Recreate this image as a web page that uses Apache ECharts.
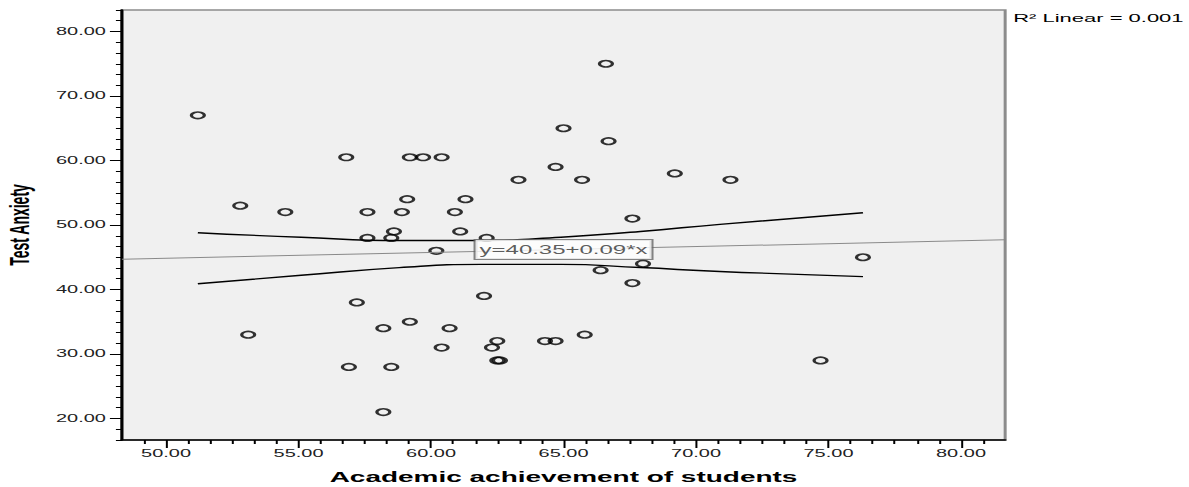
<!DOCTYPE html>
<html>
<head>
<meta charset="utf-8">
<script src="https://cdn.jsdelivr.net/npm/echarts@6.0.0/dist/echarts.min.js"></script>
<style>
  html, body { margin: 0; padding: 0; background: #fff; overflow: hidden; }
  #wrap { position: absolute; left: 0; top: 0; width: 1189px; height: 487px; overflow: hidden; }
  /* The chart is laid out at half width and stretched horizontally (wide SPSS-style export). */
  #chart { position: absolute; left: 0; top: 0; width: 595px; height: 487px;
           transform-origin: 0 0; transform: scaleX(1.99832); }
</style>
</head>
<body>
<div id="wrap"><div id="chart"></div></div>
<script>
// Academic achievement (x) and test anxiety (y) for each student
const achievement = [51.2, 52.8, 54.5, 53.1, 56.8, 57.6, 57.6, 57.2, 56.9, 58.5,
                     58.2, 58.2, 58.6, 58.5, 58.9, 59.1, 59.2, 59.7, 59.2, 60.4,
                     60.2, 60.4, 60.7, 60.9, 61.1, 61.3, 62.1, 62.0, 62.3, 62.5,
                     62.5, 62.6, 63.3, 64.3, 64.7, 64.7, 65.0, 65.7, 65.8, 66.4,
                     66.6, 66.7, 67.6, 67.6, 68.0, 69.2, 71.3, 74.7, 76.3];
const anxiety     = [67, 53, 52, 33, 60.5, 52, 48, 38, 28, 28,
                     34, 21, 49, 48, 52, 54, 60.5, 60.5, 35, 60.5,
                     46, 31, 34, 52, 49, 54, 48, 39, 31, 32,
                     29, 29, 57, 32, 32, 59, 65, 57, 33, 43,
                     75, 63, 51, 41, 44, 58, 57, 29, 45];

// Linear fit: y = 40.35 + 0.09*x, R² = 0.001
const fitIntercept = 40.35;
const fitSlope = 0.09;
const rSquared = '0.001';

// 95% confidence band of the mean around the fit
const bandX     = [51.2, 55.1, 58.8, 61.9, 64.9, 67.9, 70.9, 76.3];
const bandUpper = [48.8, 48.1, 47.6, 47.6, 48.1, 49.0, 50.1, 51.9];
const bandLower = [40.9, 42.2, 43.4, 43.9, 43.9, 43.4, 42.8, 42.0];

// Axis ranges and tick labels
const xMin = 145 / 3, xMax = 245 / 3, xMinorStep = 5 / 6;
const yMin = 50 / 3,  yMax = 250 / 3, yMinorStep = 10 / 6;
const xTickValues = [50, 55, 60, 65, 70, 75, 80];
const yTickValues = [20, 30, 40, 50, 60, 70, 80];

function minorTicks(min, max, step, majors) {
  const out = [];
  const first = Math.ceil(min / step - 1e-6), last = Math.floor(max / step + 1e-6);
  for (let n = first; n <= last; n++) {
    const v = +(n * step).toFixed(6);
    if (!majors.some(m => Math.abs(m - v) < 1e-4)) out.push(v);
  }
  return out;
}
const xMinorTicks = minorTicks(xMin, xMax, xMinorStep, xTickValues);
const yMinorTicks = minorTicks(yMin, yMax, yMinorStep, yTickValues);

const fit = x => fitIntercept + fitSlope * x;
const font = 'Liberation Sans, Arial, sans-serif';

const chart = echarts.init(document.getElementById('chart'), null, { renderer: 'svg' });

const option = {
  animation: false,
  title: {
    text: 'R² Linear = ' + rSquared,
    left: 507, top: 13, padding: 0,
    textStyle: { fontFamily: font, fontSize: 11, fontWeight: 'normal', color: '#000' }
  },
  grid: {
    left: 61, right: 92, top: 10, bottom: 47,
    outerBoundsMode: 'none', containLabel: false,
    show: true, backgroundColor: '#f0f0f0', borderColor: '#8c8c8c', borderWidth: 1.5
  },
  xAxis: [
    {
      type: 'value', min: xMin, max: xMax, position: 'bottom',
      axisLine: { show: true, onZero: false, lineStyle: { color: '#000', width: 1.5 } },
      axisTick: { show: true, customValues: xTickValues, length: 8, lineStyle: { color: '#000', width: 1 } },
      axisLabel: { customValues: xTickValues, formatter: v => v.toFixed(2),
                   fontFamily: font, fontSize: 10, color: '#222', margin: 9 },
      splitLine: { show: false },
      name: 'Academic achievement of students', nameLocation: 'middle', nameGap: 30,
      nameTextStyle: { fontFamily: font, fontWeight: 'bold', fontSize: 14, color: '#000' }
    },
    {
      type: 'value', min: xMin, max: xMax, position: 'bottom',
      axisLine: { show: false },
      axisTick: { show: true, customValues: xMinorTicks, length: 4, lineStyle: { color: '#000', width: 1 } },
      axisLabel: { show: false },
      splitLine: { show: false }
    }
  ],
  yAxis: [
    {
      type: 'value', min: yMin, max: yMax, position: 'left',
      axisLine: { show: true, onZero: false, lineStyle: { color: '#000', width: 1.5 } },
      axisTick: { show: true, customValues: yTickValues, length: 6, lineStyle: { color: '#000', width: 1 } },
      axisLabel: { customValues: yTickValues, formatter: v => v.toFixed(2),
                   fontFamily: font, fontSize: 10, color: '#222', margin: 8 },
      splitLine: { show: false },
      name: 'Test Anxiety', nameLocation: 'middle', nameGap: 44,
      nameTextStyle: { fontFamily: font, fontWeight: 'bold', fontSize: 14, color: '#000' }
    },
    {
      type: 'value', min: yMin, max: yMax, position: 'left',
      axisLine: { show: false },
      axisTick: { show: true, customValues: yMinorTicks, length: 3, lineStyle: { color: '#000', width: 1 } },
      axisLabel: { show: false },
      splitLine: { show: false }
    }
  ],
  series: [
    {
      name: 'Fit line', type: 'line', xAxisIndex: 0, yAxisIndex: 0,
      data: [[xMin, fit(xMin)], [xMax, fit(xMax)]],
      symbol: 'none', silent: true,
      lineStyle: { color: '#8a8a8a', width: 1 }
    },
    {
      name: 'Upper band', type: 'line', xAxisIndex: 0, yAxisIndex: 0, smooth: true,
      data: bandX.map((x, i) => [x, bandUpper[i]]),
      symbol: 'none', silent: true,
      lineStyle: { color: '#000', width: 1.4 }
    },
    {
      name: 'Lower band', type: 'line', xAxisIndex: 0, yAxisIndex: 0, smooth: true,
      data: bandX.map((x, i) => [x, bandLower[i]]),
      symbol: 'none', silent: true,
      lineStyle: { color: '#000', width: 1.4 }
    },
    {
      name: 'Students', type: 'scatter', xAxisIndex: 0, yAxisIndex: 0,
      data: achievement.map((x, i) => [x, anxiety[i]]),
      symbol: 'circle', symbolSize: 6.5,
      itemStyle: { color: 'rgba(0,0,0,0)', borderColor: '#000', borderWidth: 1.6 }
    },
    {
      name: 'Equation', type: 'scatter', xAxisIndex: 0, yAxisIndex: 0, z: 10,
      data: [[65.0, fit(65.0)]],
      symbolSize: 0, silent: true,
      label: {
        show: true, position: 'inside',
        formatter: 'y=' + fitIntercept.toFixed(2) + '+' + fitSlope.toFixed(2) + '*x',
        fontFamily: font, fontSize: 12, color: '#333',
        backgroundColor: '#fff', borderColor: '#666', borderWidth: 1, padding: [4, 2, 3, 2]
      }
    }
  ]
};
chart.setOption(option);
</script>
</body>
</html>
